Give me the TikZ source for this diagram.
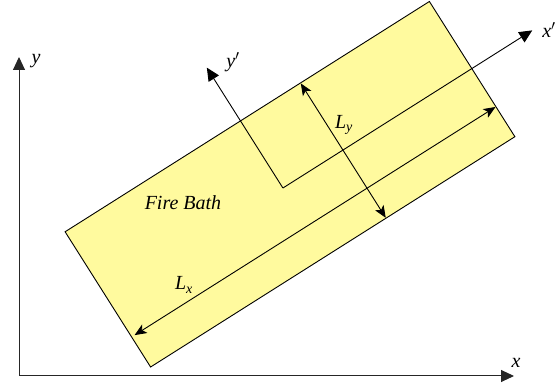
\documentclass[tikz,border=0pt]{standalone}
\usepackage{fontspec}
\setmainfont{Liberation Serif}
\usetikzlibrary{arrows.meta}
\definecolor{bathfill}{RGB}{255,250,158}
\tikzset{
  axisline/.style={line width=1pt, draw=black!85, -{Triangle[length=13pt,width=12pt]}},
  dimline/.style={line width=0.9pt, draw=black, {Stealth[length=12pt,width=10pt,inset=3pt]}-{Stealth[length=12pt,width=10pt,inset=3pt]}},
  primeaxis/.style={line width=0.9pt, draw=black, -{Triangle[length=13pt,width=12pt]}},
  bath/.style={draw=black, line width=0.9pt, fill=bathfill},
  lbl/.style={font=\fontsize{20}{23}\selectfont\itshape, inner sep=0pt},
}
\begin{document}
\begin{tikzpicture}[x=1pt,y=1pt]
\useasboundingbox (0,0) rectangle (558,387);
% fixed axes
\coordinate (O) at (19,11);
\coordinate (xend) at (514,11);
\coordinate (yend) at (19,330);
% rotated frame
\begin{scope}[shift={(290,202.75)}, rotate=32.3]
  \node[bath, transform shape, minimum width=431pt, minimum height=160pt, inner sep=0pt] (rect) at (0,0) {};
  \coordinate (o) at (-8,0.6);
  \coordinate (xp) at (287,0.6);
  \coordinate (yp) at (-8,143);
  \coordinate (lyt) at (63,79.5);
  \coordinate (lyb) at (63,-79.5);
  \coordinate (lxl) at (-212,-44.5);
  \coordinate (lxr) at (215,-44.5);
\end{scope}
\draw[primeaxis] (o) -- (xp);
\draw[primeaxis] (o) -- (yp);
\draw[dimline] (lyb) -- (lyt);
\draw[dimline] (lxl) -- (lxr);
\draw[axisline] (O) -- (xend);
\draw[axisline] (O) -- (yend);
% labels
\node[lbl] (lx) at (516,24) {x};
\node[lbl] (ly) at (36,326) {y};
\node[lbl] (lxp) at (549,357) {x$'$};
\node[lbl] (lyp) at (233,325) {y$'$};
\node[lbl] (lLy) at (344,262) {L\textsubscript{y}};
\node[lbl] (lLx) at (184,102) {L\textsubscript{x}};
\node[lbl] (fire) at (183,184) {Fire Bath};
\end{tikzpicture}
\end{document}
